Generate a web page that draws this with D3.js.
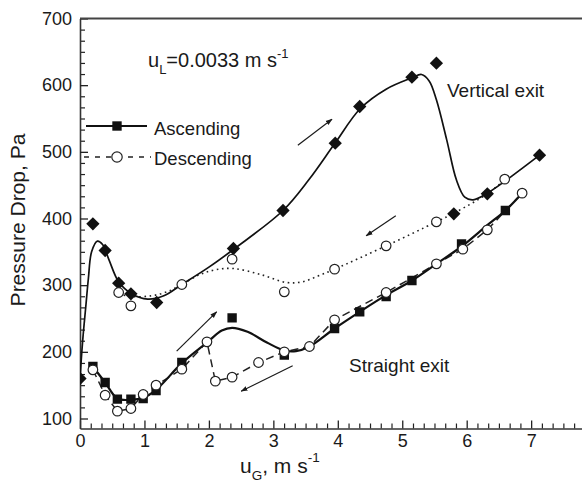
<!DOCTYPE html>
<html>
<head>
<meta charset="utf-8">
<script src="https://cdn.jsdelivr.net/npm/d3@7"></script>
<style>
  body { margin: 0; background: #fff; }
  svg { display: block; }
  text { font-family: "Liberation Sans", Arial, sans-serif; fill: #1a1a1a; }
</style>
</head>
<body>
<svg id="chart" width="582" height="484"></svg>
<script>
// ---- Measured points: [u_G (m/s), pressure drop (Pa)] ----
// Vertical exit, gas velocity ascending (filled diamonds)
const vertAscending = [
  [0, 160], [0.2, 392], [0.39, 352], [0.6, 303], [0.79, 287], [1.19, 274],
  [2.38, 355], [3.15, 412], [3.96, 513], [4.34, 568], [5.15, 612], [5.53, 633],
  [5.8, 407], [6.32, 437], [7.13, 495]
];
// Vertical exit, gas velocity descending (open circles)
const vertDescending = [
  [0.6, 289], [0.79, 269], [1.58, 301], [2.36, 339], [3.17, 290], [3.95, 324],
  [4.75, 359], [5.53, 395], [6.59, 459]
];
// Straight exit, ascending (filled squares)
const straightAscending = [
  [0.2, 178], [0.39, 154], [0.58, 129], [0.79, 129], [0.98, 130], [1.18, 142],
  [1.58, 184], [2.36, 251], [3.17, 195], [3.95, 235], [4.34, 260], [4.75, 283],
  [5.15, 307], [5.92, 362], [6.6, 412]
];
// Straight exit, descending (open circles)
const straightDescending = [
  [0.2, 173], [0.39, 135], [0.58, 111], [0.79, 115], [0.98, 136], [1.18, 150],
  [1.58, 174], [1.97, 215], [2.1, 156], [2.36, 162], [2.77, 184], [3.17, 200],
  [3.56, 208], [3.95, 248], [4.75, 289], [5.53, 332], [5.94, 354], [6.32, 383],
  [6.86, 438]
];

// ---- Smoothed trend lines through the data ----
const vertAscendingFit = [
  [0, 160], [0.04, 215], [0.09, 268], [0.13, 310], [0.18, 350], [0.27, 366],
  [0.35, 361], [0.45, 338], [0.6, 305], [0.8, 287], [1.05, 279], [1.3, 284],
  [1.58, 301], [2.0, 327], [2.4, 355], [3.15, 412], [3.55, 458], [3.95, 512],
  [4.35, 565], [4.75, 594], [5.15, 611], [5.3, 616], [5.42, 606], [5.53, 578],
  [5.69, 518], [5.84, 458], [5.97, 432], [6.1, 428], [6.32, 438], [7.13, 495]
];
const vertDescendingFit = [
  [0.6, 287], [0.8, 283], [1.1, 284], [1.35, 290], [1.58, 301], [1.86, 316],
  [2.1, 323], [2.38, 325], [2.8, 316], [3.2, 304], [3.45, 305], [3.7, 314],
  [3.95, 324], [4.75, 359], [5.53, 395], [5.8, 408], [6.32, 437], [6.6, 459]
];
const straightAscendingFit = [
  [0.2, 178], [0.39, 154], [0.58, 130], [0.79, 128], [0.98, 131], [1.18, 143],
  [1.58, 183], [1.97, 214], [2.2, 232], [2.36, 236], [2.6, 230], [2.9, 214],
  [3.17, 202], [3.35, 201], [3.56, 208], [3.95, 235], [4.34, 260], [4.75, 285],
  [5.15, 307], [5.53, 332], [5.92, 358], [6.32, 390], [6.6, 412], [6.86, 438]
];

// ---- Direction arrows: [from, to] in data units ----
const arrows = [
  [[3.38, 510], [3.91, 549]],
  [[4.90, 404], [4.44, 374]],
  [[1.50, 201], [2.12, 260]],
  [[3.30, 179], [2.50, 141]]
];

// ---- Axis ticks ----
const xTicks = [0, 1, 2, 3, 4, 5, 6, 7];
const yTicks = [100, 200, 300, 400, 500, 600, 700];
const xMinorTicks = d3.range(0, 8.0001, 1 / 6).filter(v => Math.abs(v - Math.round(v)) > 1e-6);
const yMinorTicks = d3.range(100, 700.001, 100 / 6).filter(v => Math.abs(v / 100 - Math.round(v / 100)) > 1e-6);

const svg = d3.select("#chart");
const x = d3.scaleLinear().domain([0, 8]).range([80, 80 + 8 * 64.45]);
const y = d3.scaleLinear().domain([85, 700]).range([428.5, 18.5]);

const defs = svg.append("defs");
defs.append("clipPath").attr("id", "plot")
  .append("rect")
  .attr("x", x(0)).attr("y", y(700))
  .attr("width", x(8) - x(0)).attr("height", y(85) - y(700));
defs.append("marker")
  .attr("id", "head")
  .attr("viewBox", "0 0 10 10")
  .attr("refX", 9).attr("refY", 5)
  .attr("markerWidth", 7).attr("markerHeight", 7)
  .attr("markerUnits", "userSpaceOnUse")
  .attr("orient", "auto")
  .append("path").attr("d", "M0,1.5 L10,5 L0,8.5 Z").attr("fill", "#1a1a1a");

// ---- Axes ----
const fontTicks = 18;
const minorX = svg.append("g").attr("transform", `translate(0,${y(85)})`)
  .call(d3.axisBottom(x).tickValues(xMinorTicks).tickSize(-5).tickFormat(""));
const minorY = svg.append("g").attr("transform", `translate(${x(0)},0)`)
  .call(d3.axisLeft(y).tickValues(yMinorTicks).tickSize(-5).tickFormat(""));
[minorX, minorY].forEach(g => g.select(".domain").remove());

const gx = svg.append("g").attr("transform", `translate(0,${y(85)})`)
  .call(d3.axisBottom(x).tickValues(xTicks).tickSize(-8).tickSizeOuter(0).tickPadding(5.5).tickFormat(d3.format("d")));
const gy = svg.append("g").attr("transform", `translate(${x(0)},0)`)
  .call(d3.axisLeft(y).tickValues(yTicks).tickSize(-8).tickSizeOuter(0).tickPadding(8).tickFormat(d3.format("d")));
[gx, gy].forEach(g => {
  g.attr("font-size", fontTicks).attr("font-family", null);
  g.selectAll("text").attr("fill", "#1a1a1a");
  g.selectAll("line").attr("stroke", "#222").attr("stroke-width", 1.3);
  g.select(".domain").attr("stroke", "#333").attr("stroke-width", 1.6);
});
[minorX, minorY].forEach(g => g.selectAll("line").attr("stroke", "#222").attr("stroke-width", 1.2));

// frame (top and right)
svg.append("path")
  .attr("d", `M${x(0)},${y(700)} H${x(8)} V${y(85)}`)
  .attr("fill", "none").attr("stroke", "#444").attr("stroke-width", 1.8);

// ---- Trend lines ----
const plot = svg.append("g").attr("clip-path", "url(#plot)");
const smooth = d3.line().x(d => x(d[0])).y(d => y(d[1])).curve(d3.curveCatmullRom.alpha(0.5));
const straight = d3.line().x(d => x(d[0])).y(d => y(d[1]));

plot.append("path").datum(vertDescendingFit).attr("d", smooth)
  .attr("fill", "none").attr("stroke", "#222").attr("stroke-width", 1.6)
  .attr("stroke-dasharray", "1.6,3.6");
plot.append("path").datum(vertAscendingFit).attr("d", smooth)
  .attr("fill", "none").attr("stroke", "#111").attr("stroke-width", 1.7);
plot.append("path").datum(straightDescending).attr("d", straight)
  .attr("fill", "none").attr("stroke", "#222").attr("stroke-width", 1.5)
  .attr("stroke-dasharray", "8,5");
plot.append("path").datum(straightAscendingFit).attr("d", smooth)
  .attr("fill", "none").attr("stroke", "#111").attr("stroke-width", 2.2);

// ---- Markers ----
const diamond = d3.symbol().type(d3.symbolSquare).size(88);
plot.selectAll(".dia").data(vertAscending).join("path")
  .attr("class", "dia").attr("d", diamond)
  .attr("transform", d => `translate(${x(d[0])},${y(d[1])}) rotate(45)`)
  .attr("fill", "#111");
const square = d3.symbol().type(d3.symbolSquare).size(88);
plot.selectAll(".sq").data(straightAscending).join("path")
  .attr("class", "sq").attr("d", square)
  .attr("transform", d => `translate(${x(d[0])},${y(d[1])})`)
  .attr("fill", "#111");
plot.selectAll(".cv").data(vertDescending.concat(straightDescending)).join("circle")
  .attr("class", "cv").attr("cx", d => x(d[0])).attr("cy", d => y(d[1])).attr("r", 4.8)
  .attr("fill", "#fff").attr("stroke", "#222").attr("stroke-width", 1.2);

// ---- Arrows ----
svg.selectAll(".arrow").data(arrows).join("line")
  .attr("class", "arrow")
  .attr("x1", d => x(d[0][0])).attr("y1", d => y(d[0][1]))
  .attr("x2", d => x(d[1][0])).attr("y2", d => y(d[1][1]))
  .attr("stroke", "#1a1a1a").attr("stroke-width", 1.2)
  .attr("marker-end", "url(#head)");

// ---- Legend ----
const legend = svg.append("g");
legend.append("line").attr("x1", 86).attr("x2", 147).attr("y1", 126).attr("y2", 126)
  .attr("stroke", "#111").attr("stroke-width", 2);
legend.append("path").attr("d", square).attr("transform", "translate(117,126)").attr("fill", "#111");
legend.append("text").attr("x", 154).attr("y", 134.5).attr("font-size", 18.5).text("Ascending");
legend.append("line").attr("x1", 84).attr("x2", 151).attr("y1", 157).attr("y2", 157)
  .attr("stroke", "#222").attr("stroke-width", 1.5).attr("stroke-dasharray", "5,6");
legend.append("circle").attr("cx", 117).attr("cy", 157).attr("r", 5.2)
  .attr("fill", "#fff").attr("stroke", "#222").attr("stroke-width", 1.2);
legend.append("text").attr("x", 154).attr("y", 165).attr("font-size", 18.5).text("Descending");

// ---- Annotations ----
const cond = svg.append("text").attr("x", 148).attr("y", 67).attr("font-size", 20);
cond.append("tspan").text("u");
cond.append("tspan").attr("font-size", 13).attr("dy", 7).text("L");
cond.append("tspan").attr("dy", -7).text("=0.0033 m s");
cond.append("tspan").attr("font-size", 13).attr("dy", -9.5).text("-1");

svg.append("text").attr("x", 447).attr("y", 96.5).attr("font-size", 19).text("Vertical exit");
svg.append("text").attr("x", 349).attr("y", 371.5).attr("font-size", 19).text("Straight exit");

// ---- Axis titles ----
const xt = svg.append("text").attr("x", 240).attr("y", 473).attr("font-size", 21);
xt.append("tspan").text("u");
xt.append("tspan").attr("font-size", 13.5).attr("dy", 6.5).text("G");
xt.append("tspan").attr("dy", -6.5).text(", m s");
xt.append("tspan").attr("font-size", 13.5).attr("dy", -11).text("-1");

svg.append("text")
  .attr("transform", "translate(25,220) rotate(-90)")
  .attr("text-anchor", "middle").attr("font-size", 21)
  .text("Pressure Drop, Pa");
</script>
</body>
</html>
